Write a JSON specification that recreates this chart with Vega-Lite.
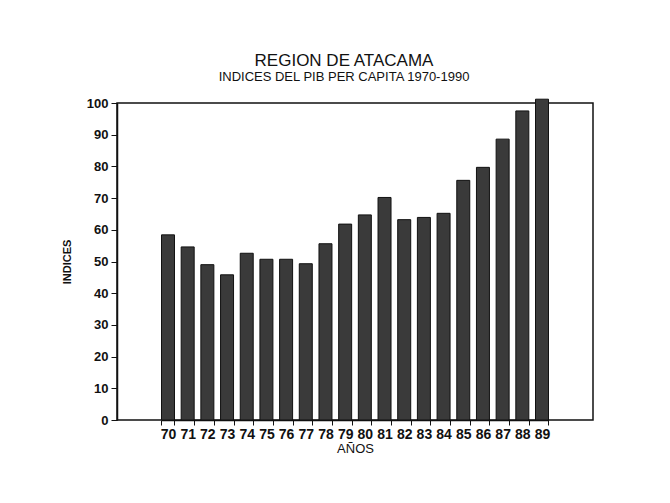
{
  "$schema": "https://vega.github.io/schema/vega-lite/v6.json",
  "width": 476,
  "height": 317,
  "autosize": {"type": "none"},
  "padding": {"left": 117, "top": 103, "right": 77, "bottom": 83},
  "background": "white",
  "title": {
    "text": "REGION DE ATACAMA",
    "subtitle": "INDICES DEL PIB PER CAPITA 1970-1990",
    "anchor": "middle",
    "dx": -11,
    "offset": 12,
    "font": "Liberation Sans",
    "fontSize": 17,
    "fontWeight": "normal",
    "color": "#111",
    "subtitleFont": "Liberation Sans",
    "subtitleFontSize": 13,
    "subtitleColor": "#111",
    "subtitlePadding": 1
  },
  "data": {
    "values": [
      {"year": "70", "index": 58.4},
      {"year": "71", "index": 54.6},
      {"year": "72", "index": 49.0},
      {"year": "73", "index": 45.8},
      {"year": "74", "index": 52.6},
      {"year": "75", "index": 50.7},
      {"year": "76", "index": 50.7},
      {"year": "77", "index": 49.3},
      {"year": "78", "index": 55.6},
      {"year": "79", "index": 61.8},
      {"year": "80", "index": 64.7},
      {"year": "81", "index": 70.2},
      {"year": "82", "index": 63.2},
      {"year": "83", "index": 63.9},
      {"year": "84", "index": 65.2},
      {"year": "85", "index": 75.6},
      {"year": "86", "index": 79.7},
      {"year": "87", "index": 88.6},
      {"year": "88", "index": 97.5},
      {"year": "89", "index": 101.2}
    ]
  },
  "mark": {"type": "bar", "fill": "#3a3a3a", "stroke": "#111", "strokeWidth": 1, "clip": false},
  "encoding": {
    "x": {
      "field": "year",
      "type": "ordinal",
      "sort": null,
      "scale": {"paddingInner": 0.34, "paddingOuter": 0, "range": [44.5, 431.5]},
      "axis": {
        "title": "AÑOS",
        "labelAngle": 0,
        "labelFont": "Liberation Sans",
        "labelFontWeight": "bold",
        "labelFontSize": 14,
        "labelColor": "#111",
        "labelPadding": 2,
        "labelOverlap": false,
        "tickBand": "extent",
        "tickSize": 5,
        "tickColor": "#111",
        "domainColor": "#111",
        "domainWidth": 1.5,
        "titleFont": "Liberation Sans",
        "titleFontSize": 13,
        "titleFontWeight": "normal",
        "titleColor": "#111",
        "titlePadding": 1
      }
    },
    "y": {
      "field": "index",
      "type": "quantitative",
      "scale": {"domain": [0, 100], "nice": false},
      "axis": {
        "title": "INDICES",
        "values": [0, 10, 20, 30, 40, 50, 60, 70, 80, 90, 100],
        "grid": false,
        "labelFont": "Liberation Sans",
        "labelFontWeight": "bold",
        "labelFontSize": 13,
        "labelColor": "#111",
        "labelPadding": 3,
        "tickSize": 6,
        "tickColor": "#111",
        "domainColor": "#111",
        "domainWidth": 1.5,
        "titleFont": "Liberation Sans",
        "titleFontSize": 11,
        "titleFontWeight": "bold",
        "titleColor": "#111",
        "titlePadding": 14
      }
    }
  },
  "config": {
    "view": {"stroke": "#111", "strokeWidth": 1.5}
  }
}
